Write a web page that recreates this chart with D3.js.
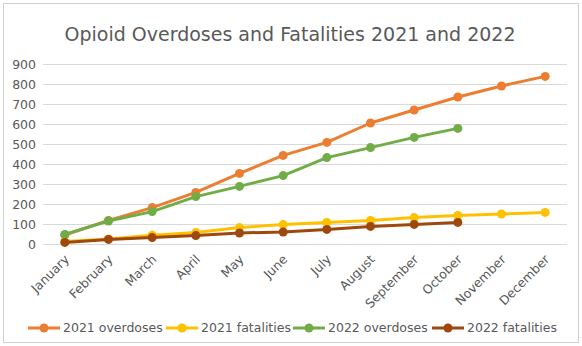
<!DOCTYPE html>
<html>
<head>
<meta charset="utf-8">
<script src="https://cdn.jsdelivr.net/npm/d3@7.9.0/dist/d3.min.js"></script>
<style>
  body { margin: 0; background: #fff; }
  svg { font-family: "DejaVu Sans", sans-serif; }
</style>
</head>
<body>
<svg id="chart" width="582" height="346"></svg>
<script>
const months = ["January", "February", "March", "April", "May", "June", "July",
  "August", "September", "October", "November", "December"];
const yTicks = [0, 100, 200, 300, 400, 500, 600, 700, 800, 900];

const overdoses2021 = [45, 118, 182, 258, 353, 443, 508, 605, 670, 735, 790, 838];
const fatalities2021 = [12, 25, 44, 57, 82, 97, 108, 118, 132, 143, 150, 158];
const overdoses2022 = [48, 115, 162, 237, 288, 342, 432, 482, 533, 578];
const fatalities2022 = [8, 23, 32, 42, 55, 60, 73, 88, 98, 108];

const seriesNames = ["2021 overdoses", "2021 fatalities", "2022 overdoses", "2022 fatalities"];
const seriesColors = ["#ED7D31", "#FFC000", "#70AD47", "#9E480E"];
const seriesValues = [overdoses2021, fatalities2021, overdoses2022, fatalities2022];

const W = 582, H = 346;
const plot = { left: 43, right: 567, top: 64, bottom: 244 };
const textColor = "#595959";

const svg = d3.select("#chart");

// chart border
svg.append("rect")
  .attr("x", 3.5).attr("y", 3.5)
  .attr("width", W - 7).attr("height", H - 7)
  .attr("fill", "#fff")
  .attr("stroke", "#d0d0d0");

svg.append("text")
  .attr("x", 290).attr("y", 41)
  .attr("text-anchor", "middle")
  .attr("font-size", 19)
  .attr("fill", textColor)
  .text("Opioid Overdoses and Fatalities 2021 and 2022");

const x = d3.scaleBand().domain(months).range([plot.left, plot.right]);
const y = d3.scaleLinear().domain([0, 900]).range([plot.bottom, plot.top]);

// gridlines
svg.append("g")
  .selectAll("line")
  .data(yTicks)
  .join("line")
  .attr("x1", plot.left).attr("x2", plot.right)
  .attr("y1", d => y(d) + 0.5).attr("y2", d => y(d) + 0.5)
  .attr("stroke", "#d9d9d9")
  .attr("stroke-width", 1);

// y axis labels
const yAxis = svg.append("g")
  .attr("transform", `translate(${plot.left - 7},0)`)
  .call(d3.axisLeft(y).tickValues(yTicks).tickSize(0).tickPadding(0));
yAxis.select(".domain").remove();
yAxis.selectAll("text")
  .attr("font-size", 12.5)
  .attr("font-family", "DejaVu Sans, sans-serif")
  .attr("fill", textColor);

// x axis labels
const xAxis = svg.append("g")
  .attr("transform", `translate(0,${plot.bottom})`)
  .call(d3.axisBottom(x).tickSize(0).tickPadding(0));
xAxis.select(".domain").remove();
xAxis.selectAll("text")
  .attr("font-size", 12.5)
  .attr("font-family", "DejaVu Sans, sans-serif")
  .attr("fill", textColor)
  .attr("text-anchor", "end")
  .attr("dy", "0.35em")
  .attr("transform", "translate(2,13) rotate(-45)");

const cx = d => x(d) + x.bandwidth() / 2;
const line = d3.line()
  .x((d, i) => cx(months[i]))
  .y(d => y(d));

seriesValues.forEach((vals, s) => {
  const g = svg.append("g");
  g.append("path")
    .datum(vals)
    .attr("d", line)
    .attr("fill", "none")
    .attr("stroke", seriesColors[s])
    .attr("stroke-width", 3)
    .attr("stroke-linejoin", "round")
    .attr("stroke-linecap", "round");
  g.selectAll("circle")
    .data(vals)
    .join("circle")
    .attr("cx", (d, i) => cx(months[i]))
    .attr("cy", d => y(d))
    .attr("r", 4.5)
    .attr("fill", seriesColors[s]);
});

// legend
const legendX = [28, 166, 293, 432];
const legendY = 328;
const legend = svg.append("g");
seriesNames.forEach((name, s) => {
  const lx = legendX[s];
  legend.append("line")
    .attr("x1", lx).attr("x2", lx + 32)
    .attr("y1", legendY).attr("y2", legendY)
    .attr("stroke", seriesColors[s])
    .attr("stroke-width", 3);
  legend.append("circle")
    .attr("cx", lx + 16).attr("cy", legendY)
    .attr("r", 4.5)
    .attr("fill", seriesColors[s]);
  legend.append("text")
    .attr("x", lx + 35).attr("y", legendY)
    .attr("dy", "0.35em")
    .attr("font-size", 12.5)
    .attr("fill", textColor)
    .text(name);
});
</script>
</body>
</html>
